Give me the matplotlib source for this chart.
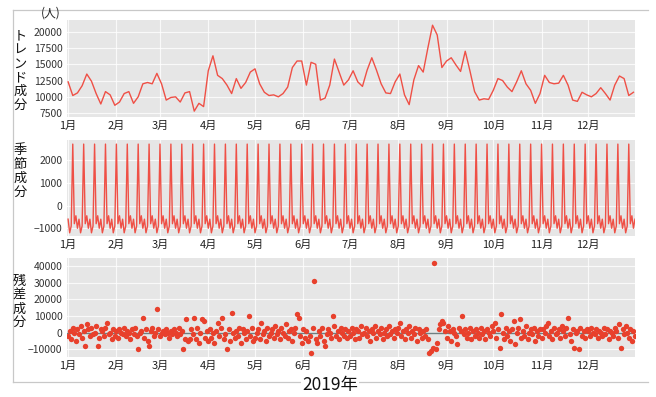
import numpy as np
import pandas as pd
import matplotlib
matplotlib.use("Agg")
import matplotlib.pyplot as plt
from matplotlib.lines import Line2D

plt.rcParams['font.family'] = ['Noto Sans CJK JP', 'DejaVu Sans']

# トレンド成分 (3日ごとの読み取り値, 人)
trend = [
    12300, 10200, 10600, 11700, 13500, 12400, 10500, 8900, 10800, 10300,
    8700, 9200, 10500, 10800, 9000, 10000, 12000, 12200, 12000, 13600,
    12000, 9500, 9900, 10000, 9200, 10600, 10800, 7800, 9000, 8500,
    14000, 16300, 13300, 12800, 11800, 10500, 12800, 11300, 12200, 13800,
    14300, 12000, 10700, 10200, 10300, 10000, 10500, 11500, 14500, 15500,
    15500, 11800, 15300, 15000, 9500, 9800, 11800, 15800, 13800, 11800,
    12600, 14000, 12300, 11600, 14100, 16000, 14100, 12000, 10600, 10500,
    12300, 13500, 10300, 8800, 12600, 14800, 13800, 17500, 21000, 19500,
    14500, 15500, 16000, 14900, 13900, 17000, 14000, 10800, 9500, 9700,
    9600, 11000, 12800, 12500, 11500, 10800, 12300, 14000, 12000, 11000,
    9000, 10500, 13300, 12200, 12000, 12100, 13300, 11800, 9500, 9300,
    10700, 10300, 10000, 10500, 11400, 10500, 9500, 11800, 13200, 12800,
    10200, 10700,
]

# 季節成分: 1週間のパターン (1/1 から)
week_pattern = [-600, -1200, -900, 2700, -800, -450, -1000]

# 残差成分 (千人), 月ごと
res_jan = [-2, 1, -4, 3, 0, -5, 2, -1, 4, -3, 1, -8, 5, 2, -2, 3, -1, 0, 4, -8,
           -3, 2, 1, -2, 3, 6, -1, 0, -4, 2, -2]
res_feb = [1, -3, 2, 0, -1, 3, -2, 1, 0, -4, 2, -1, 3, -2, -10, 0, 1, 9, -3, 2,
           -5, -8, 1, 3, -2, 0, 14, 2]
res_mar = [-2, 0, 1, -1, 2, 0, -3, 1, -1, 2, 0, -2, 3, -1, 1, -10, -4, 8, -5, -4,
           2, -1, 9, -4, 3, -6, 0, 8, 7, -3, 1]
res_apr = [-5, 2, -3, 0, -6, 1, 6, -2, 3, 9, -4, -1, -10, 2, -5, 12, 0, -3, 1, -2,
           3, -6, 2, 0, -4, 1, 10, -2, 3, -5]
res_may = [-3, 0, 2, -4, 6, -1, 1, -5, 3, -2, 0, 2, -3, 4, -1, 1, -4, 3, 0, -2,
           5, -3, 1, 2, -5, 0, 3, 11, 9, -2, -6]
res_jun = [2, -3, 1, -5, -2, -12, 3, 31, -4, -6, 1, -2, 3, -5, -8, -1, 2, 0, -3, 10,
           4, -2, 1, -4, 3, 0, -2, 2, -3, 1]
res_jul = [-2, 3, 0, -4, 2, 1, -3, 4, -1, 0, 3, -2, 1, -5, 2, 0, 4, -3, 1, -1,
           3, -4, 0, 2, -2, 4, -1, 1, -3, 2, 0]
res_aug = [3, 6, -2, 1, -4, 2, 0, 4, -3, 1, -1, 3, -5, 2, 0, -3, 1, -2, 2, -4,
           -12, -11, -9, 42, -10, -6, 2, 5, 7, 6, 1]
res_sep = [-3, 4, 1, -5, 2, 0, -2, -7, 3, 1, 10, -1, 2, -3, 0, 3, -4, 1, -2, 2,
           0, -3, 3, -1, 1, -4, 2, 0, -2, 4]
res_oct = [1, 6, -3, 2, -9, 11, 0, -4, 3, -2, 1, -5, 2, 7, -7, 0, 3, 8, -3, 1,
           -2, 4, -4, 0, 2, -1, 3, -5, 1, -2, 2]
res_nov = [-3, 2, 0, 4, 6, -2, 1, -4, 3, -1, 0, 2, -3, 4, 1, -2, 3, 9, -1, -5,
           2, -9, 0, 1, -10, 3, -2, 1, -3, 2]
res_dec = [1, -2, 3, 0, -1, 2, -3, 1, 0, -2, 3, -1, 2, -4, 1, 0, -2, 3, 1, -3,
           5, -9, 2, -1, 4, 0, -3, 2, -5, 1, -2]

month_labels = ['1月', '2月', '3月', '4月', '5月', '6月',
                '7月', '8月', '9月', '10月', '11月', '12月']

days = pd.date_range('2019-01-01', '2019-12-31', freq='D')
trend_days = pd.date_range('2019-01-01', periods=len(trend), freq='3D')
seasonal = np.tile(week_pattern, 53)[:len(days)]
resid = np.array(res_jan + res_feb + res_mar + res_apr + res_may + res_jun
                 + res_jul + res_aug + res_sep + res_oct + res_nov + res_dec) * 1000

line_color = '#ef5046'
dot_color = '#e8402c'
bg = '#e6e6e6'

fig = plt.figure(figsize=(6.56, 3.97), dpi=100)
W, H = 656, 397

# 外枠
for (x0, y0, x1, y1) in [(13, 10, 648, 10), (13, 10, 13, 382), (13, 382, 648, 382)]:
    fig.add_artist(Line2D([x0 / W, x1 / W], [1 - y0 / H, 1 - y1 / H],
                          color='#c8c8c8', lw=0.9))


def make_ax(top, bottom):
    ax = fig.add_axes([66.7 / W, 1 - bottom / H, (635 - 66.7) / W, (bottom - top) / H])
    ax.set_facecolor(bg)
    for s in ax.spines.values():
        s.set_visible(False)
    ax.grid(True, color='white', lw=0.8, alpha=0.8)
    ax.set_axisbelow(True)
    ax.tick_params(length=0, labelsize=7.5, labelcolor='#333333', pad=3)
    ax.set_xlim(pd.Timestamp('2019-01-01') - pd.Timedelta(days=0.9),
                pd.Timestamp('2019-12-31'))
    ax.set_xticks(pd.date_range('2019-01-01', periods=12, freq='MS'))
    ax.set_xticklabels(month_labels, fontsize=8, color='#222222')
    return ax


ax1 = make_ax(20, 117)
ax1.plot(trend_days, trend, color=line_color, lw=1.0)
ax1.set_ylim(6900, 21800)
ax1.set_yticks([7500, 10000, 12500, 15000, 17500, 20000])

ax2 = make_ax(140, 236)
ax2.plot(days, seasonal, color=line_color, lw=1.0)
ax2.set_ylim(-1340, 2880)
ax2.set_yticks([-1000, 0, 1000, 2000])

ax3 = make_ax(258, 357)
ax3.axhline(0, color='#6f7f80', lw=1.0, zorder=1)
ax3.scatter(days, resid, s=15, color=dot_color, zorder=2, linewidths=0)
ax3.set_ylim(-14600, 44800)
ax3.set_yticks([-10000, 0, 10000, 20000, 30000, 40000])

# 縦書きラベル
vkw = dict(ha='center', va='center', fontsize=9.5, linespacing=1.08, color='#111111')
fig.text(20 / W, 1 - 71 / H, 'ト\nレ\nン\nド\n成\n分', **vkw)
fig.text(20 / W, 1 - 171.5 / H, '季\n節\n成\n分', **vkw)
fig.text(19 / W, 1 - 302 / H, '残\n差\n成\n分', **vkw)
fig.text(51 / W, 1 - 13 / H, '(人)', ha='center', va='center', fontsize=8.5,
         color='#222222')
fig.text(330 / W, 1 - 385 / H, '2019年', ha='center', va='center', fontsize=12.5,
         color='#111111', bbox=dict(facecolor='white', edgecolor='none', pad=1))

fig.savefig('out.png', dpi=100)
